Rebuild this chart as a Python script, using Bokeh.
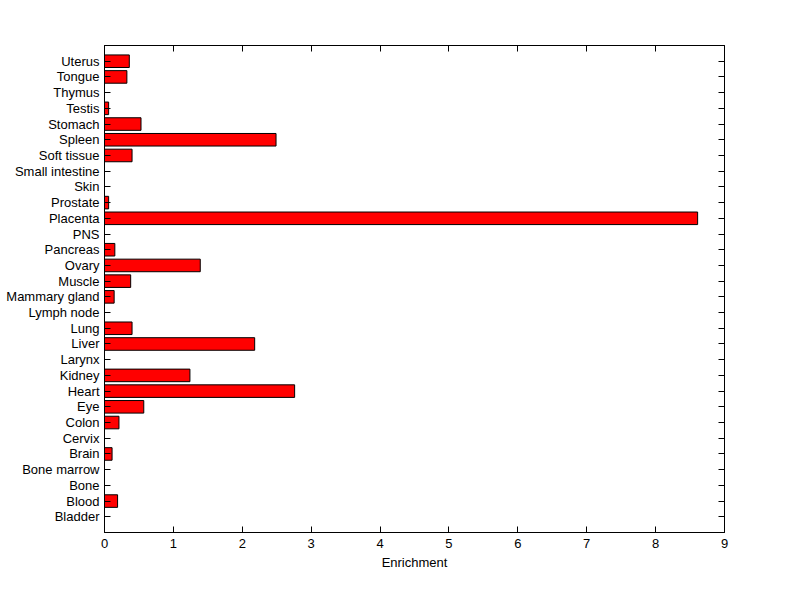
from bokeh.plotting import figure
from bokeh.models import Range1d, LinearAxis, FixedTicker, ColumnDataSource
from bokeh.embed import file_html
from bokeh.resources import INLINE

tissues = ["Bladder", "Blood", "Bone", "Bone marrow", "Brain", "Cervix", "Colon", "Eye",
           "Heart", "Kidney", "Larynx", "Liver", "Lung", "Lymph node", "Mammary gland",
           "Muscle", "Ovary", "Pancreas", "PNS", "Placenta", "Prostate", "Skin",
           "Small intestine", "Soft tissue", "Spleen", "Stomach", "Testis", "Thymus",
           "Tongue", "Uterus"]
enrichment = [0.0, 0.19, 0.0, 0.0, 0.11, 0.0, 0.21, 0.57,
              2.76, 1.24, 0.0, 2.18, 0.40, 0.0, 0.14,
              0.38, 1.39, 0.15, 0.0, 8.61, 0.06, 0.0,
              0.0, 0.40, 2.49, 0.53, 0.06, 0.0,
              0.325, 0.36]
x_ticks = list(range(0, 10))
x_label = "Enrichment"

positions = list(range(1, len(tissues) + 1))
src = ColumnDataSource(dict(y=positions, right=enrichment, left=[0] * len(tissues)))

FONT = "Liberation Sans"
FS = "13px"

p = figure(width=800, height=595, output_backend="svg", toolbar_location=None,
           x_range=Range1d(0, 9), y_range=Range1d(0, len(tissues) + 1),
           min_border_left=104, min_border_right=76, min_border_top=45, min_border_bottom=63,
           x_axis_label=x_label)
p.hbar(y="y", left="left", right="right", height=0.8, source=src,
       fill_color="#ff0000", line_color="black", line_width=1)

p.xgrid.visible = False
p.ygrid.visible = False
p.outline_line_color = "black"
p.outline_line_width = 1
p.background_fill_color = "white"
p.border_fill_color = "white"

xa = p.xaxis[0]
xa.ticker = FixedTicker(ticks=x_ticks)
xa.minor_tick_line_color = None
xa.major_tick_in = 6
xa.major_tick_out = 0
xa.major_label_standoff = 6
xa.major_label_text_font = FONT
xa.major_label_text_font_size = FS
xa.major_label_text_color = "black"
xa.axis_label_text_font = FONT
xa.axis_label_text_font_size = FS
xa.axis_label_text_font_style = "normal"
xa.axis_label_text_color = "black"
xa.axis_label_standoff = 4
xa.axis_line_color = "black"
xa.major_tick_line_color = "black"

ya = p.yaxis[0]
ya.ticker = FixedTicker(ticks=positions)
ya.major_label_overrides = {pos: name for pos, name in zip(positions, tissues)}
ya.minor_tick_line_color = None
ya.major_tick_in = 6
ya.major_tick_out = 0
ya.major_label_standoff = 5
ya.major_label_text_font = FONT
ya.major_label_text_font_size = FS
ya.major_label_text_color = "black"
ya.axis_line_color = "black"
ya.major_tick_line_color = "black"

top = LinearAxis(ticker=FixedTicker(ticks=x_ticks), major_label_text_color=None,
                 major_tick_in=6, major_tick_out=0, minor_tick_line_color=None,
                 axis_line_color="black", major_tick_line_color="black",
                 major_label_standoff=0)
right = LinearAxis(ticker=FixedTicker(ticks=positions), major_label_text_color=None,
                   major_tick_in=6, major_tick_out=0, minor_tick_line_color=None,
                   axis_line_color="black", major_tick_line_color="black",
                   major_label_standoff=0)
p.add_layout(top, "above")
p.add_layout(right, "right")

open("out.html", "w").write(file_html(p, INLINE))
